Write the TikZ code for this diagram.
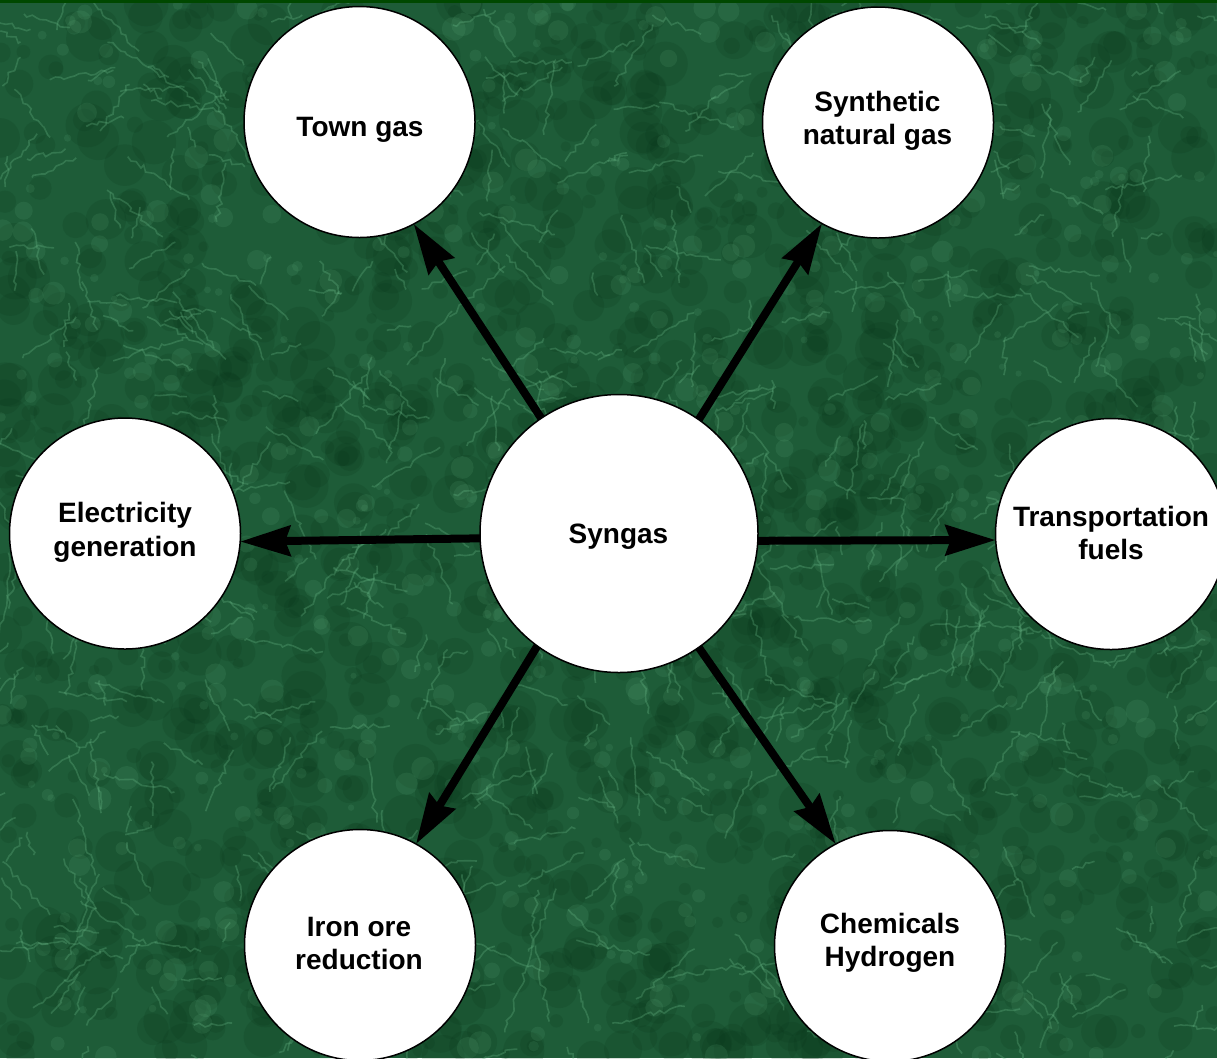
\documentclass[tikz,border=0pt]{standalone}
\usepackage{fontspec}
\setmainfont{Liberation Sans}
\usetikzlibrary{arrows.meta,decorations.pathmorphing}
\definecolor{marble}{RGB}{30,92,56}
\definecolor{vein}{RGB}{110,190,140}
\definecolor{darkpatch}{RGB}{6,48,22}
\definecolor{topband}{RGB}{0,72,0}
\tikzset{
  outcircle/.style={circle, draw=black, fill=white, line width=1.5pt, minimum size=231pt, inner sep=0pt, outer sep=0pt},
  maincircle/.style={outcircle, minimum size=278pt},
  lbl/.style={font=\bfseries\fontsize{28}{33.5}\selectfont, align=center, inner sep=0pt, text=black},
  flow/.style={line width=8pt, -{Stealth[length=50pt,width=30pt,inset=5pt]}},
  veinline/.style={vein, line width=1.6pt, opacity=0.28, decorate, decoration={random steps, segment length=5pt, amplitude=2.5pt}},
}
\begin{document}
\begin{tikzpicture}[x=1pt,y=-1pt]
\useasboundingbox (0,0) rectangle (1217,1058);
\clip (0,0) rectangle (1217,1058);
\fill[marble] (0,0) rectangle (1217,1058);
\pgfmathsetseed{7}
\foreach \i in {1,...,1600}{
  \pgfmathsetmacro\bx{rnd*1217}
  \pgfmathsetmacro\by{rnd*1058}
  \pgfmathsetmacro\br{5+rnd*18}
  \fill[darkpatch, opacity=0.15] (\bx,\by) circle[radius=\br];
}
\foreach \i in {1,...,700}{
  \pgfmathsetmacro\sx{rnd*1217}
  \pgfmathsetmacro\sy{rnd*1058}
  \pgfmathsetmacro\sr{3+rnd*9}
  \fill[vein, opacity=0.12] (\sx,\sy) circle[radius=\sr];
}
\foreach \i in {1,...,650}{
  \pgfmathsetmacro\vx{rnd*1217}
  \pgfmathsetmacro\vy{rnd*1058}
  \pgfmathsetmacro\va{rnd*360}
  \pgfmathsetmacro\vl{20+rnd*60}
  \draw[veinline] (\vx,\vy) -- ++(\va:\vl);
}
\fill[topband] (0,0) rectangle (1217,3);

\node[maincircle] (syn) at (619,533.5) {};
\node[outcircle] (town) at (359.5,122) {};
\node[outcircle] (sng) at (878,122.5) {};
\node[outcircle] (elec) at (125,533.5) {};
\node[outcircle] (trans) at (1111,534) {};
\node[outcircle] (iron) at (360,945) {};
\node[outcircle] (chem) at (890,946) {};

\node[lbl] (syntxt) at (618.5,536.7) {Syngas};
\node[lbl] (towntxt) at (360,129.7) {Town gas};
\node[lbl] (sngtxt) at (877.5,121) {Synthetic\\natural gas};
\node[lbl] (electxt) at (125,532.5) {Electricity\\generation};
\node[lbl] (transtxt) at (1111,533) {Transportation\\fuels};
\node[lbl] (irontxt) at (359,943.4) {Iron ore\\reduction};
\node[lbl] (chemtxt) at (890,943) {Chemicals\\Hydrogen};

\draw[flow] (syn.124.5) -- (town.298.3);
\draw[flow] (syn.55.5) -- (sng.241.8);
\draw[flow] (syn.182.7) -- (elec.356.8);
\draw[flow] (syn.357.3) -- (trans.183);
\draw[flow] (syn.234.9) -- (iron.61.5);
\draw[flow] (syn.305.4) -- (chem.118.3);
\end{tikzpicture}
\end{document}
